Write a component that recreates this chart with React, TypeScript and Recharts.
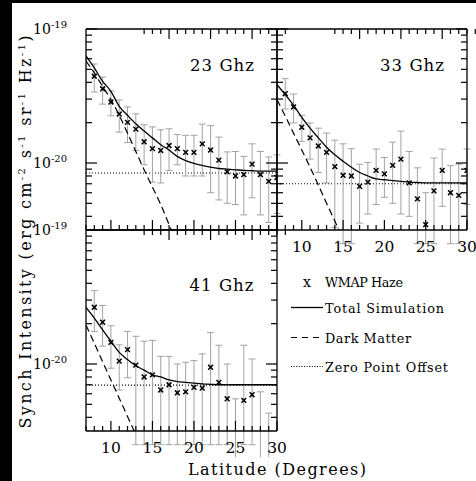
import React from 'react'
import { ComposedChart, Line, Scatter, ErrorBar, XAxis, YAxis, ReferenceLine } from 'recharts'

const FONT = '"DejaVu Serif", serif'

// intensities in units of 1e-20 erg cm^-2 s^-1 sr^-1 Hz^-1
const Y_MIN = Math.pow(10, -0.5)
const Y_MAX = 10

const latitude = [7, 8, 9, 10, 11, 12, 13, 14, 15, 16, 17, 18, 19, 20, 21, 22, 23, 24, 25, 26, 27, 28, 29, 30]
const xLabelTicks = [10, 15, 20, 25, 30]
const yTicks = [0.4, 0.5, 0.6, 0.7, 0.8, 0.9, 1, 2, 3, 4, 5, 6, 7, 8, 9, 10]
const yLabelTicks = [1, 10]
const yLabelExponents = ['-20', '-19']

// 23 GHz
const haze23 = [null, 4.44, 3.58, 2.85, 2.32, 2.01, 1.79, 1.44, 1.28, 1.24, 1.35, 1.28, 1.2, 1.2, 1.39, 1.25, 1.05, 0.86, 0.8, 0.82, 0.98, 0.82, 0.73, 0.78]
const hi23 = [null, 5.48, 4.38, 3.45, 2.95, 2.62, 2.33, 1.93, 1.86, 1.77, 1.8, 1.63, 1.61, 1.61, 1.95, 1.9, 1.56, 1.21, 1.22, 1.12, 1.39, 1.22, 1.11, 1.15]
const lo23 = [null, 3.39, 2.75, 2.25, 1.7, 1.42, 1.24, 0.97, 0.72, 0.71, 0.88, 0.97, 0.8, 0.8, 0.8, 0.6, 0.53, 0.5, 0.49, 0.41, 0.55, 0.41, 0.36, 0.42]
const total23 = [6.3, 5.12, 4.07, 3.43, 2.65, 2.27, 1.96, 1.73, 1.54, 1.37, 1.25, 1.12, 1.04, 0.995, 0.96, 0.93, 0.91, 0.9, 0.89, 0.88, 0.875, 0.87, 0.87, 0.87]
const dark23 = [5.77, 4.7, 3.73, 2.97, 2.27, 1.67, 1.22, 0.89, 0.66, 0.49, 0.347, 0.249, null, null, null, null, null, null, null, null, null, null, null, null]
const offset23 = 0.842

// 33 GHz
const haze33 = [null, 3.29, 2.62, 1.85, 1.54, 1.34, 1.2, 0.94, 0.81, 0.8, 0.67, 0.72, 0.88, 0.83, 0.96, 1.07, 0.71, 0.54, 0.347, 0.62, 0.88, 0.6, 0.574, 0.88]
const hi33 = [null, 4.26, 3.27, 2.27, 1.99, 1.82, 1.67, 1.48, 1.39, 1.28, 0.98, 1.01, 1.27, 1.1, 1.43, 1.73, 1.22, 0.92, 0.6, 1.09, 1.27, 0.955, 0.98, 1.27]
const lo33 = [null, 2.53, 1.99, 1.45, 1.07, 0.85, 0.71, 0.33, 0.25, 0.25, 0.356, 0.416, 0.49, 0.555, 0.5, 0.416, 0.4, 0.25, 0.25, 0.25, 0.475, 0.25, 0.25, 0.49]
const total33 = [3.84, 3.24, 2.7, 2.19, 1.82, 1.54, 1.31, 1.15, 1.03, 0.93, 0.85, 0.8, 0.76, 0.75, 0.74, 0.73, 0.72, 0.715, 0.71, 0.71, 0.71, 0.71, 0.71, 0.71]
const dark33 = [2.97, 2.24, 1.67, 1.25, 0.93, 0.685, 0.5, 0.369, 0.271, null, null, null, null, null, null, null, null, null, null, null, null, null, null, null]
const offset33 = 0.7

// 41 GHz
const haze41 = [null, 2.65, 2.05, 1.45, 1.05, 1.28, 0.98, 0.8, 0.83, 0.64, 0.7, 0.61, 0.62, 0.67, 0.66, 0.945, 0.73, 0.55, 0.28, 0.535, 0.59, 0.28, 0.22, null]
const hi41 = [null, 3.53, 2.73, 1.93, 1.39, 1.75, 1.61, 1.48, 1.5, 1.14, 1.14, 1.0, 1.03, 1.06, 1.19, 1.72, 1.38, 1.0, 0.55, 1.38, 1.09, 0.62, 0.43, null]
const lo41 = [null, 1.75, 1.36, 0.93, 0.64, 0.79, 0.25, 0.25, 0.25, 0.25, 0.25, 0.25, 0.25, 0.25, 0.25, 0.25, 0.25, 0.25, 0.2, 0.25, 0.25, 0.2, 0.15, null]
const total41 = [2.64, 2.2, 1.8, 1.48, 1.22, 1.08, 0.97, 0.9, 0.83, 0.8, 0.76, 0.74, 0.73, 0.72, 0.71, 0.705, 0.7, 0.7, 0.7, 0.7, 0.7, 0.7, 0.7, 0.7]
const dark41 = [1.95, 1.43, 1.04, 0.76, 0.556, 0.406, 0.297, null, null, null, null, null, null, null, null, null, null, null, null, null, null, null, null, null]
const offset41 = 0.695

type Num = number | null

function buildRows(haze: Num[], hi: Num[], lo: Num[], total: Num[], dark: Num[]) {
  return latitude.map((x, i) => {
    const v = haze[i]
    return {
      x,
      haze: v,
      err: v == null ? null : [v - (lo[i] as number), (hi[i] as number) - v],
      total: total[i],
      dark: dark[i],
    }
  })
}

const isMajorX = (v: number) => v % 5 === 0
const tickStroke = { stroke: '#000', strokeWidth: 1.2 }

function xTick(p: any, side: 'top' | 'bottom', withLabel: boolean) {
  const { x, y, payload } = p
  const v = payload.value
  const len = isMajorX(v) ? 10 : 5
  const dir = side === 'bottom' ? -1 : 1
  return (
    <g>
      <line x1={x} y1={y} x2={x} y2={y + dir * len} {...tickStroke} />
      {withLabel && xLabelTicks.includes(v) && (
        <text x={x} y={y + 22} textAnchor="middle" fontFamily={FONT} fontSize={15.5} fill="#000">
          {v}
        </text>
      )}
    </g>
  )
}

function yTick(p: any, side: 'left' | 'right', withLabel: boolean) {
  const { x, y, payload } = p
  const v = payload.value
  const idx = yLabelTicks.indexOf(v)
  const len = idx >= 0 ? 11 : 6
  const dir = side === 'left' ? 1 : -1
  return (
    <g>
      <line x1={x} y1={y} x2={x + dir * len} y2={y} {...tickStroke} />
      {withLabel && idx >= 0 && (
        <text x={x - 19} y={y + 5} textAnchor="end" fontFamily={FONT} fontSize={14} fill="#000">
          10
          <tspan dy={-6} fontSize={10}>
            {yLabelExponents[idx]}
          </tspan>
        </text>
      )}
    </g>
  )
}

const Cross = (p: any) => {
  const { cx, cy } = p
  if (cx == null || cy == null) return <g />
  const s = 2.4
  return (
    <g stroke="#000" strokeWidth={1.5}>
      <line x1={cx - s} y1={cy - s} x2={cx + s} y2={cy + s} />
      <line x1={cx - s} y1={cy + s} x2={cx + s} y2={cy - s} />
    </g>
  )
}

const PLOT_H = 201

interface PanelProps {
  plotLeft: number
  plotTop: number
  plotW: number
  rows: ReturnType<typeof buildRows>
  offset: number
  yLabels: boolean
  xLabels: boolean
}

function Panel({ plotLeft, plotTop, plotW, rows, offset, yLabels, xLabels }: PanelProps) {
  const leftW = yLabels ? 74 : 1
  const bottomH = xLabels ? 26 : 1
  const mTop = 8
  const mRight = 14
  const w = leftW + plotW + 1 + mRight
  const h = mTop + 1 + PLOT_H + bottomH
  const points = rows.filter((r) => r.haze != null)
  const frame = { stroke: '#000', strokeWidth: 1.3 }
  return (
    <div style={{ position: 'absolute', left: plotLeft - leftW, top: plotTop - mTop - 1 }}>
      <ComposedChart width={w} height={h} data={rows} margin={{ top: mTop, right: mRight, bottom: 0, left: 0 }}>
        <XAxis
          xAxisId="b"
          dataKey="x"
          type="number"
          domain={[7, 30]}
          ticks={latitude}
          interval={0}
          allowDataOverflow
          height={bottomH}
          tickSize={0}
          tickMargin={0}
          tickLine={false}
          axisLine={frame}
          tick={(p: any) => xTick(p, 'bottom', xLabels)}
        />
        <XAxis
          xAxisId="t"
          orientation="top"
          type="number"
          domain={[7, 30]}
          ticks={latitude}
          interval={0}
          allowDataOverflow
          height={1}
          tickSize={0}
          tickMargin={0}
          tickLine={false}
          axisLine={frame}
          tick={(p: any) => xTick(p, 'top', false)}
        />
        <YAxis
          yAxisId="l"
          scale="log"
          type="number"
          domain={[Y_MIN, Y_MAX]}
          ticks={yTicks}
          interval={0}
          allowDataOverflow
          width={leftW}
          tickSize={0}
          tickMargin={0}
          tickLine={false}
          axisLine={frame}
          tick={(p: any) => yTick(p, 'left', yLabels)}
        />
        <YAxis
          yAxisId="r"
          orientation="right"
          scale="log"
          type="number"
          domain={[Y_MIN, Y_MAX]}
          ticks={yTicks}
          interval={0}
          allowDataOverflow
          width={1}
          tickSize={0}
          tickMargin={0}
          tickLine={false}
          axisLine={frame}
          tick={(p: any) => yTick(p, 'right', false)}
        />
        <ReferenceLine xAxisId="b" yAxisId="l" y={offset} stroke="#000" strokeWidth={1.1} strokeDasharray="1 2" />
        <Scatter
          xAxisId="b"
          yAxisId="l"
          data={points}
          dataKey="haze"
          shape={Cross}
          isAnimationActive={false}
        >
          <ErrorBar dataKey="err" direction="y" width={3.5} stroke="#a3a3a3" strokeWidth={1} />
        </Scatter>
        <Line
          xAxisId="b"
          yAxisId="l"
          type="monotone"
          dataKey="dark"
          stroke="#000"
          strokeWidth={1.2}
          strokeDasharray="7 4"
          dot={false}
          isAnimationActive={false}
        />
        <Line
          xAxisId="b"
          yAxisId="l"
          type="monotone"
          dataKey="total"
          stroke="#000"
          strokeWidth={1.3}
          dot={false}
          isAnimationActive={false}
        />
      </ComposedChart>
    </div>
  )
}

export default function App() {
  const rows23 = buildRows(haze23, hi23, lo23, total23, dark23)
  const rows33 = buildRows(haze33, hi33, lo33, total33, dark33)
  const rows41 = buildRows(haze41, hi41, lo41, total41, dark41)
  const txt = { fontFamily: FONT, fill: '#000' }
  return (
    <div style={{ position: 'absolute', left: 0, top: 0, width: 476, height: 481, background: '#fff', overflow: 'hidden' }}>
      <div style={{ position: 'absolute', left: 0, top: 0, width: 476, height: 3, background: '#000' }} />
      <div style={{ position: 'absolute', left: 0, top: 0, width: 12, height: 481, background: '#000' }} />
      <Panel plotLeft={86} plotTop={29} plotW={191} rows={rows23} offset={offset23} yLabels xLabels={false} />
      <Panel plotLeft={277} plotTop={29} plotW={190} rows={rows33} offset={offset33} yLabels={false} xLabels />
      <Panel plotLeft={86} plotTop={230} plotW={191} rows={rows41} offset={offset41} yLabels xLabels />
      <svg width={476} height={481} style={{ position: 'absolute', left: 0, top: 0, pointerEvents: 'none' }}>
        <text x={190} y={70.5} fontSize={16.5} textLength={64} {...txt}>23 Ghz</text>
        <text x={380} y={70.5} fontSize={16.5} textLength={64} {...txt}>33 Ghz</text>
        <text x={189.5} y={291} fontSize={16.5} textLength={64} {...txt}>41 Ghz</text>
        <text x={277} y={475} fontSize={16} textAnchor="middle" textLength={178} {...txt}>Latitude (Degrees)</text>
        <text transform="rotate(-90 31 232)" x={31} y={232} fontSize={16} textAnchor="middle" textLength={393} {...txt}>
          Synch Intensity (erg cm<tspan dy={-6} fontSize={10}>-2</tspan>
          <tspan dy={6}> s</tspan>
          <tspan dy={-6} fontSize={10}>-1</tspan>
          <tspan dy={6}> sr</tspan>
          <tspan dy={-6} fontSize={10}>-1</tspan>
          <tspan dy={6}> Hz</tspan>
          <tspan dy={-6} fontSize={10}>-1</tspan>
          <tspan dy={6}>)</tspan>
        </text>
        <text x={307} y={287} fontSize={14} textAnchor="middle" {...txt}>x</text>
        <text x={325} y={287} fontSize={12.8} textLength={78} {...txt}>WMAP Haze</text>
        <line x1={291} y1={307.5} x2={323} y2={307.5} stroke="#000" strokeWidth={1.3} />
        <text x={325} y={313} fontSize={12.8} textLength={119} {...txt}>Total Simulation</text>
        <line x1={291} y1={337.5} x2={323} y2={337.5} stroke="#000" strokeWidth={1.2} strokeDasharray="6 5" />
        <text x={325} y={342.5} fontSize={12.8} textLength={86} {...txt}>Dark Matter</text>
        <line x1={291} y1={366.5} x2={323} y2={366.5} stroke="#000" strokeWidth={1.1} strokeDasharray="1 1.6" />
        <text x={325} y={371.5} fontSize={12.8} textLength={123} {...txt}>Zero Point Offset</text>
      </svg>
    </div>
  )
}
